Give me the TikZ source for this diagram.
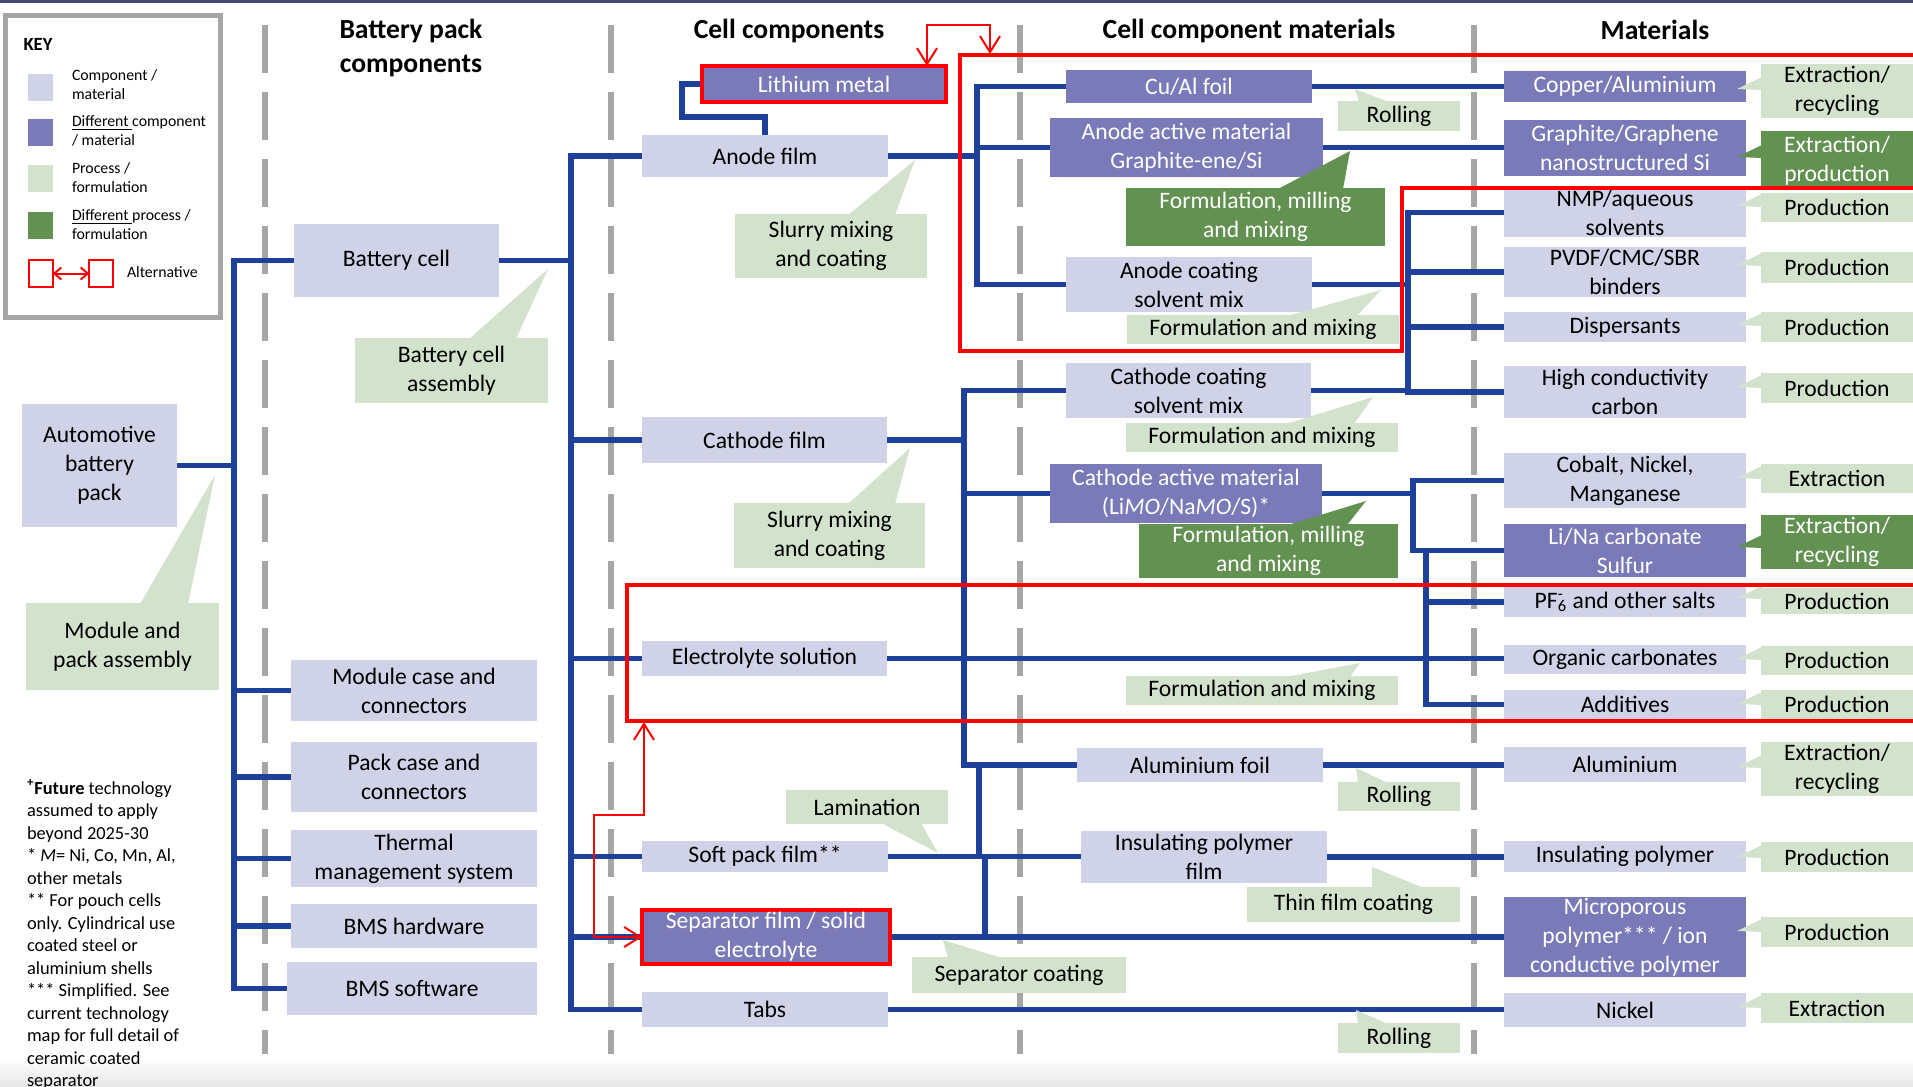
\documentclass[tikz,border=0pt]{standalone}
\usepackage{fontspec}
\setmainfont{Carlito}
\usetikzlibrary{arrows.meta}
\definecolor{lav}{RGB}{208,210,232}
\definecolor{pur}{RGB}{123,122,185}
\definecolor{lgr}{RGB}{211,226,204}
\definecolor{dgr}{RGB}{98,145,82}
\definecolor{cblue}{RGB}{31,64,153}
\definecolor{dashgray}{RGB}{166,166,166}
\definecolor{keygray}{RGB}{165,165,165}
\definecolor{topnavy}{RGB}{70,70,115}
\newcommand{\bx}[7]{\node[#1, minimum width={(#5-#3)*0.5pt}, minimum height={(#6-#4)*0.5pt}] (#2) at ({(#3+#5)/2},{(#4+#6)/2}) {#7};}
\tikzset{
  every node/.style={inner sep=0pt, outer sep=0pt, align=center, font=\fontsize{11.8}{14.5}\selectfont},
  comp/.style={fill=lav, text=black},
  dcomp/.style={fill=pur, text=white},
  proc/.style={fill=lgr, text=black},
  dproc/.style={fill=dgr, text=white},
  redb/.style={draw=red, line width=2pt},
  conn/.style={draw=cblue, line width=2.8pt, line join=miter},
  dashline/.style={draw=dashgray, line width=3pt, dash pattern=on 24pt off 9.5pt},
  redline/.style={draw=red, line width=2pt},
  redarr/.style={draw=red, line width=1pt, >={Straight Barb[length=8pt,width=10pt]}, <->},
  hdr/.style={font=\fontsize{13.8}{17}\selectfont\bfseries},
  keyt/.style={font=\fontsize{7.9}{9.5}\selectfont, align=left, anchor=west},
  foot/.style={font=\fontsize{9.2}{11.25}\selectfont, align=left},
}
\begin{document}
\begin{tikzpicture}[x=0.5pt,y=-0.5pt]
\useasboundingbox (0,0) rectangle (1913,1087);
% background decorations
\shade[top color=white, bottom color=black!10] (0,1058) rectangle (1913,1087);
\fill[topnavy] (0,0) rectangle (1913,3);
% dashed column separators
\draw[dashline] (265,25) -- (265,1054);
\draw[dashline] (611,25) -- (611,1054);
\draw[dashline] (1020,25) -- (1020,1054);
\draw[dashline] (1474,25) -- (1474,1054);

% headers
\node[hdr] (h1) at (411,48) {Battery pack\\components};
\node[hdr] (h2) at (789,31) {Cell components};
\node[hdr] (h3) at (1249,31) {Cell component materials};
\node[hdr] (h4) at (1655,30) {Materials};

% ---------- boxes ----------
% pack level
\bx{comp}{autopack}{22}{404}{177}{527}{Automotive\\battery\\pack}
\bx{comp}{cell}{294}{224}{499}{297}{Battery cell}
\bx{comp}{modcase}{291}{660}{537}{721}{Module case and\\connectors}
\bx{comp}{packcase}{291}{742}{537}{812}{Pack case and\\connectors}
\bx{comp}{thermal}{291}{830}{537}{887}{Thermal\\management system}
\bx{comp}{bmshw}{291}{904}{537}{948}{BMS hardware}
\bx{comp}{bmssw}{287}{962}{537}{1015}{BMS software}
% cell level
\bx{comp}{anode}{642}{135}{888}{177}{Anode film}
\bx{comp}{cathode}{642}{417}{887}{463}{Cathode film}
\bx{comp}{electro}{642}{641}{887}{676}{Electrolyte solution}
\bx{comp}{softpack}{642}{841}{888}{872}{Soft pack film**}
\bx{comp}{tabs}{642}{992}{888}{1027}{Tabs}
% cell component materials
\bx{dcomp}{cual}{1066}{70}{1312}{103}{Cu/Al foil}
\bx{dcomp}{aam}{1050}{118}{1323}{177}{Anode active material\\Graphite-ene/Si}
\bx{comp}{acoat}{1066}{257}{1312}{312}{Anode coating\\solvent mix}
\bx{comp}{ccoat}{1066}{363}{1311}{418}{Cathode coating\\solvent mix}
\bx{dcomp}{cam}{1050}{464}{1322}{523}{Cathode active material\\(Li\textit{MO}/Na\textit{MO}/S)*}
\bx{comp}{alfoil}{1077}{748}{1323}{782}{Aluminium foil}
\bx{comp}{ipf}{1081}{831}{1327}{883}{Insulating polymer\\film}
% materials
\bx{dcomp}{copper}{1504}{71}{1746}{102}{Copper/Aluminium}
\bx{dcomp}{graphite}{1504}{120}{1746}{176}{Graphite/Graphene\\nanostructured Si}
\bx{comp}{nmp}{1504}{188}{1746}{237}{NMP/aqueous\\solvents}
\bx{comp}{pvdf}{1504}{247}{1746}{297}{PVDF/CMC/SBR\\binders}
\bx{comp}{disp}{1504}{312}{1746}{342}{Dispersants}
\bx{comp}{hcc}{1504}{366}{1746}{418}{High conductivity\\carbon}
\bx{comp}{cobalt}{1504}{453}{1746}{508}{Cobalt, Nickel,\\Manganese}
\bx{dcomp}{lina}{1504}{524}{1746}{577}{Li/Na carbonate\\Sulfur}
\bx{comp}{pf6}{1504}{587}{1746}{617}{PF\rlap{\textsubscript{6}}\textsuperscript{-}\kern0.15em\ and other salts}
\bx{comp}{organic}{1504}{645}{1746}{674}{Organic carbonates}
\bx{comp}{additives}{1504}{690}{1746}{719}{Additives}
\bx{comp}{alum}{1504}{747}{1746}{782}{Aluminium}
\bx{comp}{inspol}{1504}{841}{1746}{872}{Insulating polymer}
\bx{dcomp}{micro}{1504}{897}{1746}{977}{Microporous\\polymer*** / ion\\conductive polymer}
\bx{comp}{nickel}{1504}{993}{1746}{1027}{Nickel}

% ---------- connectors ----------
\coordinate (tp) at (234,0);
\coordinate (tc) at (571,0);
\coordinate (ta) at (977,0);
\coordinate (tk) at (964,0);
\coordinate (ts1) at (979,0);
\coordinate (ts2) at (985,0);
\coordinate (tsv) at (1408,0);
\coordinate (tcm) at (1413,0);
\coordinate (tel) at (1426,0);
\coordinate (li1) at (765,117);
\coordinate (li2) at (682,117);
% pack
\draw[conn] (autopack.east) -- (autopack.east -| tp);
\draw[conn] (cell.west) -- (cell.west -| tp) -- (bmssw.west -| tp) -- (bmssw.west);
\draw[conn] (modcase.west -| tp) -- (modcase.west);
\draw[conn] (packcase.west -| tp) -- (packcase.west);
\draw[conn] (thermal.west -| tp) -- (thermal.west);
\draw[conn] (bmshw.west -| tp) -- (bmshw.west);
% cell
\draw[conn] (cell.east) -- (cell.east -| tc);
\draw[conn] (anode.west) -- (anode.west -| tc) -- (tabs.west -| tc) -- (tabs.west);
\draw[conn] (cathode.west -| tc) -- (cathode.west);
\draw[conn] (electro.west -| tc) -- (electro.west);
\draw[conn] (softpack.west -| tc) -- (softpack.west);
\draw[conn] (tc |- 937,937) -- (642,937);
% lithium
\draw[conn] (anode.north -| li1) -- (li1) -- (li2) -- (li2 |- 0,84) -- (702,84);
% anode materials
\draw[conn] (anode.east) -- (anode.east -| ta);
\draw[conn] (cual.west) -- (cual.west -| ta) -- (acoat.west -| ta) -- (acoat.west);
\draw[conn] (aam.west -| ta) -- (aam.west);
% cathode materials
\draw[conn] (cathode.east) -- (cathode.east -| tk);
\draw[conn] (ccoat.west) -- (ccoat.west -| tk) -- (alfoil.west -| tk) -- (alfoil.west);
\draw[conn] (cam.west -| tk) -- (cam.west);
% soft pack / separator / tabs / electrolyte
\draw[conn] (softpack.east) -- (softpack.east -| ipf.west);
\draw[conn] (alfoil.west -| ts1) -- (softpack.east -| ts1);
\draw[conn] (softpack.east -| ts2) -- (ts2 |- 0,937);
\draw[conn] (890,937) -- (micro.west);
\draw[conn] (tabs.east) -- (tabs.east -| nickel.west);
\draw[conn] (electro.east) -- (electro.east -| organic.west);
% to materials
\draw[conn] (cual.east) -- (cual.east -| copper.west);
\draw[conn] (aam.east) -- (aam.east -| graphite.west);
\draw[conn] (acoat.east) -- (acoat.east -| tsv);
\draw[conn] (ccoat.east) -- (ccoat.east -| tsv);
\draw[conn] (nmp.west) -- (nmp.west -| tsv) -- (hcc.west -| tsv) -- (hcc.west);
\draw[conn] (pvdf.west -| tsv) -- (pvdf.west);
\draw[conn] (disp.west -| tsv) -- (disp.west);
\draw[conn] (cam.east) -- (cam.east -| tcm);
\draw[conn] (cobalt.west) -- (cobalt.west -| tcm) -- (lina.west -| tcm) -- (lina.west);
\draw[conn] (lina.west -| tel) -- (additives.west -| tel) -- (additives.west);
\draw[conn] (pf6.west -| tel) -- (pf6.west);
\draw[conn] (alfoil.east) -- (alfoil.east -| alum.west);
\draw[conn] (ipf.east) -- (ipf.east -| inspol.west);

% boxes drawn over connectors
\bx{dcomp,redb}{lith}{702}{66}{946}{102}{Lithium metal}
\bx{dcomp,redb}{sep}{642}{910}{890}{964}{Separator film / solid\\electrolyte}

% ---------- process callouts ----------
\bx{proc}{mpa}{26}{603}{219}{690}{Module and\\pack assembly}
\fill[lgr] (140,604) -- (215,475) -- (188,604) -- cycle;
\bx{proc}{bca}{355}{338}{548}{403}{Battery cell\\assembly}
\fill[lgr] (469,339) -- (548,269) -- (516,339) -- cycle;
\bx{proc}{slurA}{735}{214}{927}{278}{Slurry mixing\\and coating}
\fill[lgr] (848,215) -- (915,160) -- (895,215) -- cycle;
\bx{proc}{slurC}{734}{503}{925}{568}{Slurry mixing\\and coating}
\fill[lgr] (848,504) -- (910,448) -- (895,504) -- cycle;
\bx{proc}{lam}{786}{790}{948}{824}{Lamination}
\fill[lgr] (881,823) -- (938,853) -- (921,823) -- cycle;
\bx{proc}{sepcoat}{912}{957}{1126}{993}{Separator coating}
\fill[lgr] (948,958) -- (943,940) -- (1002,958) -- cycle;
\bx{proc}{roll1}{1338}{101}{1460}{131}{Rolling}
\fill[lgr] (1359,102) -- (1355,89) -- (1389,102) -- cycle;
\bx{dproc}{fmm1}{1126}{188}{1385}{246}{Formulation, milling\\and mixing}
\fill[dgr] (1278,189) -- (1350,151) -- (1343,189) -- cycle;
\bx{proc}{fm1}{1127}{315}{1399}{344}{Formulation and mixing}
\fill[lgr] (1287,316) -- (1381,290) -- (1357,316) -- cycle;
\bx{proc}{fm2}{1126}{423}{1398}{452}{Formulation and mixing}
\fill[lgr] (1286,424) -- (1373,397) -- (1354,424) -- cycle;
\bx{dproc}{fmm2}{1139}{524}{1398}{578}{Formulation, milling\\and mixing}
\fill[dgr] (1288,525) -- (1366,501) -- (1347,525) -- cycle;
\bx{proc}{fm3}{1126}{676}{1398}{705}{Formulation and mixing}
\fill[lgr] (1286,677) -- (1360,663) -- (1350,677) -- cycle;
\bx{proc}{roll2}{1338}{782}{1460}{811}{Rolling}
\fill[lgr] (1358,783) -- (1356,768) -- (1388,783) -- cycle;
\bx{proc}{tfc}{1247}{887}{1460}{922}{Thin film coating}
\fill[lgr] (1372,888) -- (1372,867) -- (1424,888) -- cycle;
\bx{proc}{roll3}{1338}{1023}{1460}{1053}{Rolling}
\fill[lgr] (1358,1024) -- (1356,1010) -- (1388,1024) -- cycle;

% right-hand process boxes
\bx{proc}{p1}{1761}{64}{1913}{118}{Extraction/\\recycling}
\bx{dproc}{p2}{1761}{131}{1913}{190}{Extraction/\\production}
\bx{proc}{p3}{1761}{193}{1913}{222}{Production}
\bx{proc}{p4}{1761}{252}{1913}{283}{Production}
\bx{proc}{p5}{1761}{312}{1913}{342}{Production}
\bx{proc}{p6}{1761}{373}{1913}{403}{Production}
\bx{proc}{p7}{1761}{464}{1913}{493}{Extraction}
\bx{dproc}{p8}{1761}{515}{1913}{569}{Extraction/\\recycling}
\bx{proc}{p9}{1761}{588}{1913}{614}{Production}
\bx{proc}{p10}{1761}{646}{1913}{675}{Production}
\bx{proc}{p11}{1761}{690}{1913}{719}{Production}
\bx{proc}{p12}{1761}{742}{1913}{796}{Extraction/\\recycling}
\bx{proc}{p13}{1761}{842}{1913}{872}{Production}
\bx{proc}{p14}{1761}{917}{1913}{947}{Production}
\bx{proc}{p15}{1761}{993}{1913}{1023}{Extraction}
\foreach \ty in {89,206,265,325,387,478,598,659,704,767,857,931,1007}
  \fill[lgr] (1762,\ty-12) -- (1737,\ty) -- (1762,\ty+1) -- cycle;
\foreach \ty in {157,547}
  \fill[dgr] (1762,\ty-12) -- (1737,\ty) -- (1762,\ty+1) -- cycle;

% ---------- alternatives (red) ----------
\draw[redline] (1913,55) -- (960,55) -- (960,351) -- (1402,351) -- (1402,188) -- (1913,188);
\draw[redline] (1913,585) -- (627,585) -- (627,721) -- (1913,721);
\coordinate (ra) at (927,0);
\draw[redarr] (lith.north -| ra) -- (927,25) -- (990,25) -- (990,54);
\draw[redarr] (644,722) -- (644,815) -- (594,815) -- (594,937) -- (sep.west);

% ---------- key ----------
\draw[keygray, line width=2.5pt] (5,15) rectangle (220,317);
\node[font=\fontsize{9.3}{11}\selectfont\bfseries] (keyk) at (38,44) {KEY};
\bx{comp}{ks1}{28}{74}{53}{101}{}
\bx{dcomp}{ks2}{28}{119}{53}{146}{}
\bx{proc}{ks3}{28}{165}{53}{192}{}
\bx{dproc}{ks4}{28}{212}{53}{239}{}
\node[keyt] (kt1) at (72,85) {Component /\\material};
\node[keyt] (kt2) at (72,131) {\underline{Different }component\\/ material};
\node[keyt] (kt3) at (72,178) {Process /\\formulation};
\node[keyt] (kt4) at (72,225) {\underline{Different }process /\\formulation};
\node[draw=red, line width=1pt, minimum width=12pt, minimum height=13.5pt] (ka) at (40.75,273.5) {};
\node[draw=red, line width=1pt, minimum width=12pt, minimum height=13.5pt] (kb) at (101.25,273.5) {};
\draw[red, line width=1pt, >={Straight Barb[length=3.5pt,width=6pt]}, <->] (ka.east) -- (kb.west);
\node[keyt] (kt5) at (127,272) {Alternative};

% ---------- footnote ----------
\node[foot, anchor=base west] (fn) at (27,1086.5) {\textsuperscript{\textbf{+}}\textbf{Future} technology\\assumed to apply\\beyond 2025-30\\* \textit{M}= Ni, Co, Mn, Al,\\other metals\\** For pouch cells\\only. Cylindrical use\\coated steel or\\aluminium shells\\*** Simplified. See\\current technology\\map for full detail of\\ceramic coated\\separator};
\end{tikzpicture}
\end{document}
